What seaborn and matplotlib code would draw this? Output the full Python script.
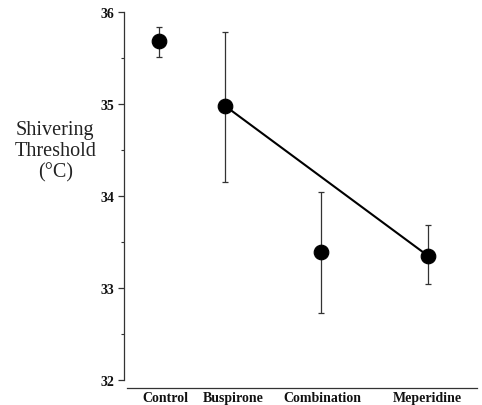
import matplotlib
matplotlib.use("Agg")
import matplotlib.pyplot as plt
import seaborn as sns
import pandas as pd
from matplotlib.ticker import MultipleLocator

categories = ["Control", "Buspirone", "Combination", "Meperidine"]
threshold = [35.68, 34.98, 33.39, 33.35]
err_low = [35.51, 34.15, 32.73, 33.04]
err_high = [35.84, 35.78, 34.04, 33.68]
line_groups = ["Buspirone", "Meperidine"]

# layout (axis units along x)
point_pos = [0.99, 2.86, 5.58, 8.61]
label_pos = [1.16, 3.09, 5.61, 8.58]

sns.set_theme(style="white")
plt.rcParams["font.family"] = ["Liberation Serif", "DejaVu Serif"]

df = pd.DataFrame({"cat": categories, "x": point_pos, "y": threshold,
                   "lo": err_low, "hi": err_high})
dline = df[df["cat"].isin(line_groups)]

fig = plt.figure(figsize=(4.82, 4.06), dpi=100)
ax = fig.add_axes([124/482, 1-381/406, (477-124)/482, (381-13)/406])

ax.errorbar(df["x"], df["y"], yerr=[df["y"]-df["lo"], df["hi"]-df["y"]],
            fmt="none", ecolor="#333333", elinewidth=0.9, capsize=2.5, capthick=0.9)
sns.lineplot(data=dline, x="x", y="y", ax=ax, color="black", linewidth=1.5)
sns.scatterplot(data=df, x="x", y="y", ax=ax, color="black", s=110, edgecolor="black", zorder=5)

for s in ["top", "right"]:
    ax.spines[s].set_visible(False)
ax.spines["left"].set_color("#333333")
ax.spines["left"].set_linewidth(0.9)
ax.spines["bottom"].set_color("#333333")
ax.spines["bottom"].set_linewidth(0.9)
ax.spines["bottom"].set_position(("outward", 6))
ax.spines["bottom"].set_bounds(0.08, 10)

ax.set_xlim(0, 10)
ax.set_ylim(32, 36)
ax.yaxis.set_minor_locator(MultipleLocator(0.5))
ax.tick_params(axis="y", which="major", left=True, length=4, width=0.9, color="#333333", pad=3)
ax.tick_params(axis="y", which="minor", left=True, length=2, width=0.8, color="#333333")
ax.tick_params(axis="x", length=0, pad=2)
ax.set_xticks(label_pos)
ax.set_xticklabels(categories, fontweight="bold", fontsize=10, color="#111111")
ax.set_yticks([32, 33, 34, 35, 36])
ax.set_yticklabels(["32", "33", "34", "35", "36"], fontweight="bold", fontsize=10, color="#111111")
ax.set_xlabel("")
ax.set_ylabel("Shivering\nThreshold\n(°C)", rotation=0, fontsize=14.5, color="#222222",
              va="center", ha="center", linespacing=1.15)
ax.yaxis.set_label_coords(-0.195, 0.622)
if ax.get_legend():
    ax.get_legend().remove()

fig.savefig("out.png", dpi=100)
